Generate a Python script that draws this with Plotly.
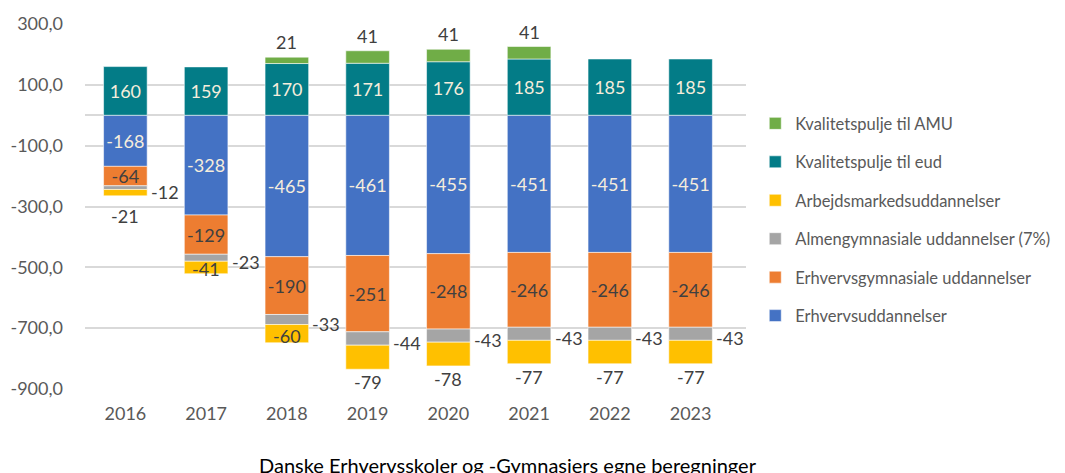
import plotly.graph_objects as go

years = ["2016", "2017", "2018", "2019", "2020", "2021", "2022", "2023"]
erhvervsudd = [-168, -328, -465, -461, -455, -451, -451, -451]
erhvervsgym = [-64, -129, -190, -251, -248, -246, -246, -246]
almengym = [-12, -23, -33, -44, -43, -43, -43, -43]
amu_udd = [-21, -41, -60, -79, -78, -77, -77, -77]
kval_eud = [160, 159, 170, 171, 176, 185, 185, 185]
kval_amu = [0, 0, 21, 41, 41, 41, 0, 0]

y_tickvals = [300, 100, -100, -300, -500, -700, -900]
y_ticktext = ["300,0", "100,0", "-100,0", "-300,0", "-500,0", "-700,0", "-900,0"]
caption = "Danske Erhvervsskoler og -Gymnasiers egne beregninger"

FONT = "Lato"
DARK = "#404040"
LIGHT = "#F6EDDC"
BARGAP = 0.46
edge = dict(color="rgba(255,255,255,0.55)", width=1)

fig = go.Figure()

def add(name, vals, color, rank, textcolor=None, show_text=True):
    txt = [str(v) for v in vals] if show_text else None
    fig.add_trace(go.Bar(
        x=years, y=vals, name=name, legendgroup=name, legendrank=rank,
        marker=dict(color=color, line=edge),
        text=txt, textposition="inside" if show_text else "none",
        insidetextanchor="middle", textangle=0, constraintext="none",
        textfont=dict(family=FONT, size=18, color=textcolor or DARK),
        hoverinfo="x+y+name",
    ))

add("Erhvervsuddannelser", erhvervsudd, "#4472C4", 6, LIGHT)
add("Erhvervsgymnasiale uddannelser", erhvervsgym, "#ED7D31", 5, DARK)
add("Almengymnasiale uddannelser (7%)", almengym, "#A5A5A5", 4, show_text=False)
add("Arbejdsmarkedsuddannelser", amu_udd, "#FFC000", 3, show_text=False)
add("Kvalitetspulje til eud", kval_eud, "#037C87", 2, LIGHT)
add("Kvalitetspulje til AMU", [v if v else None for v in kval_amu], "#70AD47", 1, show_text=False)

annotations = []
half = (1 - BARGAP) / 2
lab_font = dict(family=FONT, size=18, color=DARK)
for i, yr in enumerate(years):
    base = erhvervsudd[i] + erhvervsgym[i]
    g_mid = base + almengym[i] / 2
    annotations.append(dict(x=i + half + 0.02, y=g_mid, xref="x", yref="y",
                            text=str(almengym[i]), showarrow=False,
                            xanchor="left", yanchor="middle", yshift=-4, font=lab_font))
    y_bot = base + almengym[i] + amu_udd[i]
    if i in (1, 2):
        annotations.append(dict(x=i, y=base + almengym[i] + amu_udd[i] / 2, xref="x", yref="y",
                                text=str(amu_udd[i]), showarrow=False,
                                yanchor="middle", yshift=-2, font=lab_font))
    else:
        annotations.append(dict(x=i, y=y_bot, xref="x", yref="y",
                                text=str(amu_udd[i]), showarrow=False,
                                yanchor="middle", yshift=-20 if i == 0 else -13, font=lab_font))
    if kval_amu[i]:
        annotations.append(dict(x=i, y=kval_eud[i] + kval_amu[i], xref="x", yref="y",
                                text=str(kval_amu[i]), showarrow=False,
                                yanchor="middle", yshift=15, font=lab_font))

annotations.append(dict(x=0.64, y=-0.208, xref="paper", yref="paper", text=caption,
                        showarrow=False, xanchor="center", yanchor="middle",
                        font=dict(family=FONT, size=20, color="#000000")))

fig.update_layout(
    width=1065, height=473,
    barmode="relative", bargap=BARGAP,
    paper_bgcolor="white", plot_bgcolor="white",
    margin=dict(l=77, r=327, t=16, b=92, autoexpand=False),
    font=dict(family=FONT, size=18, color="#595959"),
    xaxis=dict(type="category", showgrid=False, showline=False, ticks="",
               ticklabelstandoff=12, automargin=False,
               tickfont=dict(family=FONT, size=18, color="#595959")),
    yaxis=dict(range=[-900, 300], tickvals=y_tickvals, ticktext=y_ticktext,
               showgrid=True, gridcolor="#D9D9D9", gridwidth=1.5,
               zeroline=True, zerolinecolor="#D9D9D9", zerolinewidth=1.5,
               showline=False, ticks="", ticklabelstandoff=21, automargin=False,
               tickfont=dict(family=FONT, size=18, color="#595959")),
    legend=dict(x=1.014, y=0.464, xanchor="left", yanchor="middle",
                traceorder="grouped", tracegroupgap=14,
                font=dict(family=FONT, size=16.5, color="#595959"),
                itemwidth=30),
    annotations=annotations,
    showlegend=True,
)

fig.write_html("out.html")
